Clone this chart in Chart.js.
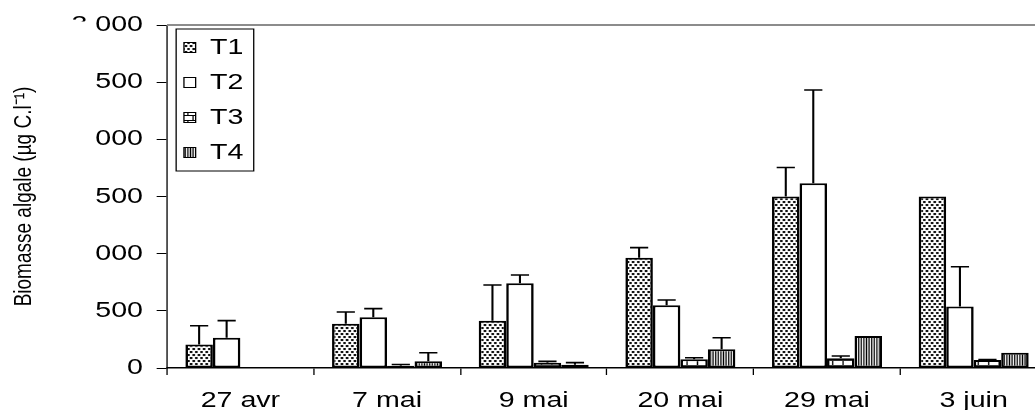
<!DOCTYPE html>
<html>
<head>
<meta charset="utf-8">
<script src="https://cdn.jsdelivr.net/npm/chart.js@4.4.1/dist/chart.umd.min.js"></script>
<style>
    html, body { margin: 0; padding: 0; background: #fff; overflow: hidden; }
    #quadro { width: 1035px; height: 410px; overflow: hidden; }
</style>
</head>
<body>
<div id="quadro"><canvas id="grafico" width="810" height="410"></canvas></div>
<script>
const datas = ['27 avr', '7 mai', '9 mai', '20 mai', '29 mai', '3 juin'];
const nomes = ['T1', 'T2', 'T3', 'T4'];
const t1 = [205, 388, 414, 965, 1500, 1500];
const t2 = [265, 443, 741, 548, 1616, 537];
const t3 = [null, 20, 47, 76, 85, 70];
const t4 = [null, 58, 29, 163, 280, 134];
// barras de erro (só para cima)
const t1_erro = [165, 102, 312, 88, 253, 0];
const t2_erro = [149, 76, 73, 47, 816, 349];
const t3_erro = [0, 10, 11, 14, 20, 5];
const t4_erro = [0, 76, 18, 102, 0, 0];
const y_ticks = [0, 500, 1000, 1500, 2000, 2500, 3000];

const titulo_y = 'Biomasse algale (µg C.l⁻¹)';
const fonte = '"Liberation Sans", Arial, sans-serif';
// o original tem o texto esticado na horizontal
const esticar = 1.3;

const canvas = document.getElementById('grafico');
const ctx_base = canvas.getContext('2d');

function padrao(tipo){
    const c = document.createElement('canvas');
    const g = c.getContext('2d');

    if(tipo == 'pontos'){
        c.width = 4; c.height = 6;
        g.fillStyle = '#fff'; g.fillRect(0, 0, 4, 6);
        g.fillStyle = '#111';
        g.fillRect(0, 0, 2, 2);
        g.fillRect(2, 3, 2, 2);
    }
    if(tipo == 'tijolos'){
        c.width = 8; c.height = 10;
        g.fillStyle = '#fff'; g.fillRect(0, 0, 8, 10);
        g.fillStyle = '#000';
        g.fillRect(0, 0, 8, 1);
        g.fillRect(0, 0, 1, 5);
        g.fillRect(0, 5, 8, 1);
        g.fillRect(4, 5, 1, 5);
    }
    if(tipo == 'listras'){
        c.width = 2; c.height = 2;
        g.fillStyle = '#fff'; g.fillRect(0, 0, 2, 2);
        g.fillStyle = '#000';
        g.fillRect(0, 0, 1, 2);
    }

    return ctx_base.createPattern(c, 'repeat');
}

const esticar_x = {
    id: 'esticar_x',
    beforeDraw(chart){
        chart.ctx.save();
        chart.ctx.scale(esticar, 1);
    },
    afterDraw(chart){
        chart.ctx.restore();
    }
};

const extras = {
    id: 'extras',
    afterDatasetsDraw(chart){
        const ctx = chart.ctx;
        const y = chart.scales.y;
        const area = chart.chartArea;

        ctx.save();

        // borda de cima
        ctx.strokeStyle = '#8c8c8c';
        ctx.lineWidth = 2;
        ctx.beginPath();
        ctx.moveTo(area.left, area.top);
        ctx.lineTo(area.right + 10, area.top);
        ctx.stroke();

        // erros
        ctx.strokeStyle = '#000';
        ctx.lineWidth = 1.6;
        chart.data.datasets.forEach((ds, i) => {
            const meta = chart.getDatasetMeta(i);
            meta.data.forEach((barra, j) => {
                const v = ds.data[j];
                const e = ds.erro[j];
                if(v == null || !e) return;
                const topo = y.getPixelForValue(v + e);
                ctx.beginPath();
                ctx.moveTo(barra.x, barra.y);
                ctx.lineTo(barra.x, topo);
                ctx.moveTo(barra.x - 7, topo);
                ctx.lineTo(barra.x + 7, topo);
                ctx.stroke();
            });
        });

        // moldura da legenda
        const caixas = chart.legend.legendHitBoxes;
        const primeira = caixas[0];
        const ultima = caixas[caixas.length - 1];
        const direita = Math.max(...caixas.map(c => c.left + c.width));
        const esq = primeira.left - 6;
        const cima = primeira.top - 7.5;
        ctx.lineWidth = 1;
        ctx.strokeRect(esq, cima, direita + 8 - esq, ultima.top + ultima.height + 7.5 - cima);

        // no original o primeiro algarismo dos milhares está cortado
        ctx.fillStyle = '#fff';
        ctx.fillRect(55, area.top - 3.5, 18.3, 270);

        ctx.restore();
    }
};

const series = [
    {dados: t1, erro: t1_erro, fundo: padrao('pontos')},
    {dados: t2, erro: t2_erro, fundo: '#fff'},
    {dados: t3, erro: t3_erro, fundo: padrao('tijolos')},
    {dados: t4, erro: t4_erro, fundo: padrao('listras')}
];

Chart.defaults.color = '#000';
Chart.defaults.font.family = fonte;

const grafico = new Chart(canvas, {
    type: 'bar',
    data: {
        labels: datas,
        datasets: series.map((s, i) => ({
            label: nomes[i],
            data: s.dados,
            erro: s.erro,
            backgroundColor: s.fundo,
            borderColor: '#000',
            borderWidth: 2,
            borderSkipped: false,
            categoryPercentage: 0.75,
            barPercentage: 1
        }))
    },
    plugins: [esticar_x, extras],
    options: {
        responsive: false,
        animation: false,
        events: [],
        layout: { padding: { top: 25, right: 4.6, bottom: 0, left: 0 } },
        plugins: {
            tooltip: { enabled: false },
            legend: {
                position: 'chartArea',
                align: 'start',
                // título vazio só para descer a legenda
                title: { display: true, text: '', font: { size: 20, lineHeight: 1 }, padding: { top: 3.5, bottom: 0 } },
                labels: {
                    color: '#000',
                    font: { size: 22 },
                    boxWidth: 9,
                    boxHeight: 10,
                    padding: 13,
                    generateLabels(chart){
                        const itens = Chart.defaults.plugins.legend.labels.generateLabels(chart);
                        itens.forEach(it => it.lineWidth = 1);
                        return itens;
                    }
                }
            }
        },
        scales: {
            x: {
                grid: { drawOnChartArea: false, color: '#000', tickLength: 7, offset: true },
                border: { color: '#000', width: 1.5 },
                ticks: { font: { size: 22 }, color: '#000', padding: 12.5 },
                afterFit(scale){ scale.height = 42; }
            },
            y: {
                min: 0,
                max: 3000,
                afterBuildTicks(scale){ scale.ticks = y_ticks.map(v => ({value: v})); },
                grid: { drawOnChartArea: false, color: '#000', tickLength: 8 },
                border: { color: '#000', width: 1 },
                ticks: { font: { size: 22 }, color: '#000', padding: 10.5 },
                title: {
                    display: true,
                    text: titulo_y,
                    font: { size: 19 },
                    color: '#000',
                    padding: { top: 7, bottom: 0 }
                },
                afterFit(scale){ scale.width = 128.5; }
            }
        }
    }
});

// canvas real mais largo, o desenho é esticado no beforeDraw
canvas.width = Math.round(810 * esticar);
canvas.style.width = canvas.width + 'px';
grafico.draw();
</script>
</body>
</html>
